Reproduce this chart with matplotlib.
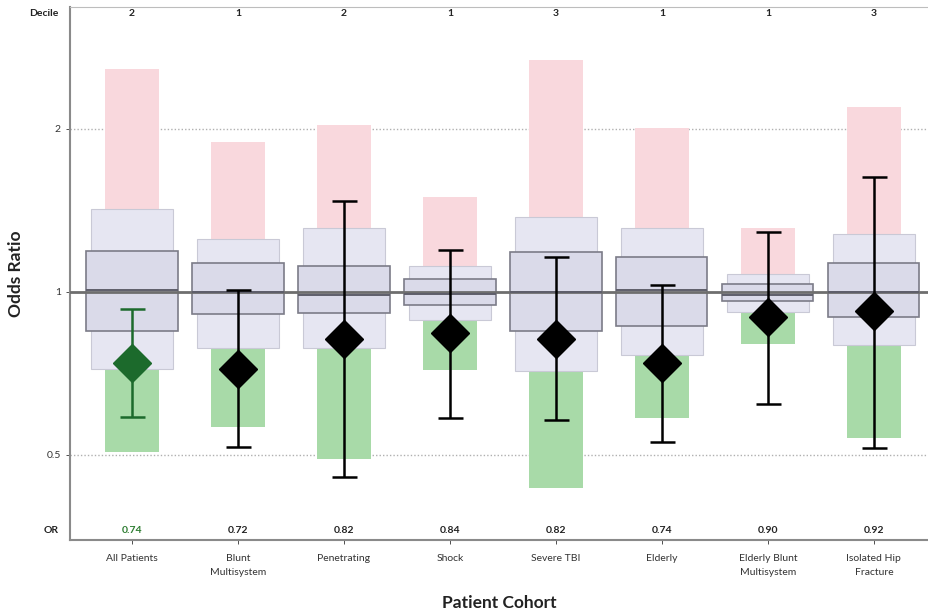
import matplotlib
matplotlib.use("Agg")
import matplotlib.pyplot as plt
import numpy as np

plt.rcParams["font.family"] = ["Lato", "DejaVu Sans"]

cohorts = ["All Patients", "Blunt\nMultisystem", "Penetrating", "Shock", "Severe TBI",
           "Elderly", "Elderly Blunt\nMultisystem", "Isolated Hip\nFracture"]
deciles = [2, 1, 2, 1, 3, 1, 1, 3]
odds = [0.74, 0.72, 0.82, 0.84, 0.82, 0.74, 0.90, 0.92]
ci_low = [0.588, 0.517, 0.455, 0.585, 0.580, 0.528, 0.621, 0.515]
ci_high = [0.93, 1.01, 1.47, 1.196, 1.16, 1.03, 1.29, 1.63]
# reference distribution per cohort
pink_top = [2.58, 1.89, 2.03, 1.50, 2.68, 2.01, 1.31, 2.20]
outer_hi = [1.42, 1.25, 1.31, 1.117, 1.376, 1.31, 1.08, 1.28]
box_hi = [1.19, 1.13, 1.117, 1.057, 1.185, 1.16, 1.035, 1.13]
median = [1.01, 1.0, 0.987, 0.99, 1.0, 1.01, 0.987, 1.0]
box_lo = [0.847, 0.91, 0.915, 0.946, 0.847, 0.865, 0.963, 0.899]
outer_lo = [0.721, 0.788, 0.788, 0.888, 0.715, 0.765, 0.918, 0.798]
green_bot = [0.506, 0.563, 0.491, 0.718, 0.434, 0.585, 0.80, 0.537]

x = np.arange(len(cohorts))
pink_top, outer_hi, outer_lo, green_bot = map(np.array, (pink_top, outer_hi, outer_lo, green_bot))
box_hi, box_lo = np.array(box_hi), np.array(box_lo)

fig = plt.figure(figsize=(9.29, 6.11), dpi=100)
ax = fig.add_axes([70 / 929, 1 - 540 / 611, 859 / 929, 533 / 611])
ax.set_yscale("log")
ax.set_ylim(0.348, 3.36)
ax.set_xlim(-0.585, 7.52)

for v in (0.5, 2):
    ax.axhline(v, color="#b0b0b0", lw=1, ls=(0, (1, 1.5)), zorder=0)

ax.bar(x, pink_top - outer_hi, bottom=outer_hi, width=0.51, color="#f9d8dd", zorder=1)
ax.bar(x, outer_lo - green_bot, bottom=green_bot, width=0.51, color="#a8daa8", zorder=1)
ax.bar(x, outer_hi - outer_lo, bottom=outer_lo, width=0.77, color="#e6e6f2",
       edgecolor="#c9c9d6", lw=0.8, zorder=2)
ax.bar(x, box_hi - box_lo, bottom=box_lo, width=0.86, color="#dadae9",
       edgecolor="#7c7c88", lw=1.2, zorder=3)
ax.axhline(1, color="#6e6e6e", lw=2, zorder=4)
ax.hlines(median, x - 0.43, x + 0.43, color="#5e5e6a", lw=1.4, zorder=4)

for i in range(len(cohorts)):
    c = "#1c6a2c" if i == 0 else "black"
    ax.errorbar(x[i], odds[i], yerr=[[odds[i] - ci_low[i]], [ci_high[i] - odds[i]]],
                fmt="D", color=c, ms=19.5, ecolor=c, elinewidth=1.8, capsize=9,
                capthick=1.8, zorder=5)

tr = ax.get_xaxis_transform()
for i in range(len(cohorts)):
    ax.text(x[i], 0.988, str(deciles[i]), transform=tr, ha="center", va="center",
            fontsize=7.5, fontweight="bold", color="#222222")
    ax.text(x[i], 0.017, f"{odds[i]:.2f}", transform=tr, ha="center", va="center",
            fontsize=7.5, fontweight="bold", color="#2e7d32" if i == 0 else "#222222")
ax.text(-0.013, 0.988, "Decile", transform=ax.transAxes, ha="right", va="center",
        fontsize=7.5, fontweight="bold", color="#222222")
ax.text(-0.013, 0.017, "OR", transform=ax.transAxes, ha="right", va="center",
        fontsize=7.5, fontweight="bold", color="#222222")

ax.set_yticks([0.5, 1, 2])
ax.set_yticklabels(["0.5", "1", "2"])
ax.yaxis.set_minor_locator(plt.NullLocator())
ax.set_xticks(x)
ax.set_xticklabels(cohorts, linespacing=1.75)
ax.tick_params(axis="both", labelsize=7.5, colors="#333333", length=3, width=0.6)
ax.tick_params(axis="x", pad=7)

for s in ("left", "bottom"):
    ax.spines[s].set_color("#8a8a8a")
    ax.spines[s].set_linewidth(1.5)
ax.spines["top"].set_color("#bdbdbd")
ax.spines["right"].set_visible(False)

ax.set_xlabel("Patient Cohort", fontsize=12.5, fontweight="bold", color="#222222", labelpad=13)
ax.set_ylabel("Odds Ratio", fontsize=12.5, fontweight="bold", color="#222222", labelpad=16)

fig.savefig("out.png", dpi=100)
